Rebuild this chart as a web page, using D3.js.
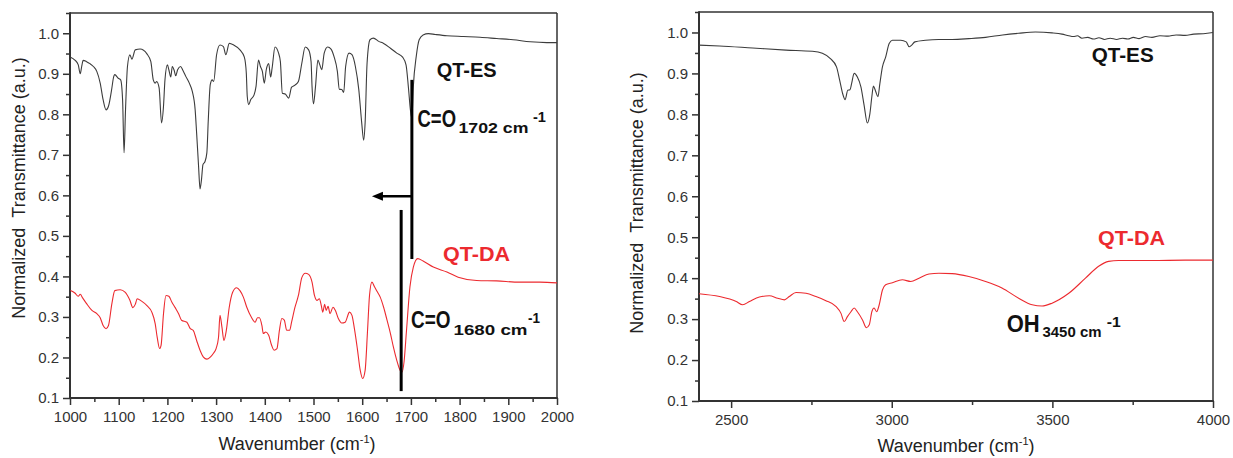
<!DOCTYPE html>
<html><head><meta charset="utf-8">
<script src="https://cdn.jsdelivr.net/npm/d3@7"></script>
<style>
body{margin:0;background:#fff}
svg{display:block}
text{font-family:Arial,"Liberation Sans",sans-serif}
</style>
</head><body>
<svg id="chart" width="1233" height="458"></svg>
<script>
// ---------- DATA ----------
const leftES = [[1001,0.941],[1010,0.934],[1017,0.922],[1021,0.900],[1024,0.918],[1027,0.933],[1034,0.930],[1041,0.925],[1048,0.918],[1055,0.906],[1062,0.877],[1068,0.836],[1074,0.811],[1079,0.820],[1086,0.865],[1089,0.889],[1092,0.898],[1099,0.889],[1104,0.885],[1108,0.836],[1111,0.705],[1114,0.811],[1118,0.918],[1123,0.947],[1127,0.936],[1134,0.959],[1144,0.961],[1158,0.949],[1166,0.930],[1171,0.885],[1175,0.877],[1178,0.881],[1183,0.865],[1188,0.779],[1192,0.820],[1195,0.885],[1200,0.922],[1203,0.910],[1207,0.892],[1210,0.918],[1214,0.908],[1217,0.895],[1221,0.910],[1227,0.918],[1232,0.908],[1238,0.893],[1245,0.877],[1251,0.857],[1257,0.811],[1260,0.754],[1264,0.672],[1267,0.616],[1270,0.639],[1273,0.676],[1277,0.683],[1281,0.705],[1284,0.787],[1288,0.873],[1292,0.885],[1295,0.881],[1301,0.947],[1308,0.971],[1315,0.967],[1320,0.947],[1327,0.975],[1336,0.971],[1349,0.959],[1358,0.941],[1362,0.902],[1364,0.844],[1367,0.824],[1371,0.836],[1378,0.848],[1382,0.869],[1387,0.934],[1391,0.918],[1395,0.906],[1399,0.877],[1403,0.910],[1408,0.925],[1412,0.892],[1415,0.914],[1421,0.966],[1428,0.952],[1432,0.930],[1436,0.852],[1442,0.850],[1449,0.840],[1455,0.867],[1462,0.872],[1469,0.881],[1476,0.926],[1483,0.966],[1490,0.959],[1495,0.930],[1497,0.869],[1500,0.826],[1504,0.867],[1509,0.934],[1513,0.922],[1517,0.910],[1522,0.951],[1529,0.966],[1536,0.961],[1542,0.943],[1549,0.906],[1553,0.862],[1558,0.861],[1562,0.854],[1566,0.918],[1573,0.951],[1579,0.947],[1586,0.918],[1593,0.861],[1599,0.779],[1603,0.736],[1606,0.779],[1610,0.926],[1616,0.984],[1623,0.988],[1634,0.980],[1644,0.975],[1658,0.963],[1671,0.951],[1683,0.941],[1690,0.922],[1695,0.865],[1699,0.811],[1702,0.790],[1705,0.869],[1711,0.943],[1717,0.984],[1725,0.996],[1736,0.999],[1750,0.997],[1774,0.994],[1808,0.992],[1842,0.990],[1876,0.987],[1910,0.984],[1945,0.979],[1979,0.977],[2000,0.977]];

const leftDA = [[1001,0.365],[1010,0.359],[1017,0.351],[1021,0.356],[1026,0.347],[1034,0.333],[1045,0.316],[1055,0.308],[1062,0.298],[1068,0.279],[1074,0.271],[1079,0.279],[1086,0.333],[1092,0.365],[1103,0.367],[1113,0.361],[1123,0.341],[1129,0.323],[1134,0.331],[1138,0.345],[1147,0.339],[1158,0.328],[1168,0.312],[1175,0.283],[1179,0.250],[1184,0.222],[1187,0.230],[1192,0.308],[1197,0.353],[1203,0.351],[1209,0.337],[1216,0.323],[1223,0.308],[1229,0.292],[1240,0.287],[1247,0.271],[1253,0.267],[1260,0.242],[1267,0.218],[1274,0.201],[1281,0.196],[1288,0.201],[1295,0.211],[1300,0.222],[1305,0.250],[1308,0.304],[1312,0.275],[1316,0.242],[1321,0.267],[1327,0.324],[1334,0.361],[1342,0.372],[1349,0.365],[1356,0.349],[1363,0.324],[1373,0.298],[1380,0.287],[1385,0.298],[1389,0.298],[1394,0.279],[1397,0.259],[1402,0.263],[1408,0.255],[1414,0.230],[1419,0.218],[1425,0.222],[1430,0.267],[1435,0.296],[1440,0.292],[1445,0.267],[1451,0.267],[1455,0.287],[1462,0.324],[1469,0.353],[1476,0.397],[1483,0.408],[1490,0.405],[1497,0.386],[1502,0.353],[1507,0.341],[1512,0.345],[1516,0.328],[1519,0.312],[1523,0.331],[1526,0.316],[1530,0.326],[1534,0.308],[1540,0.324],[1545,0.316],[1551,0.296],[1558,0.285],[1565,0.287],[1574,0.312],[1579,0.304],[1584,0.271],[1590,0.222],[1596,0.168],[1601,0.148],[1606,0.168],[1611,0.267],[1615,0.353],[1620,0.386],[1625,0.375],[1630,0.364],[1637,0.349],[1644,0.324],[1651,0.292],[1658,0.259],[1664,0.226],[1671,0.193],[1678,0.168],[1682,0.164],[1686,0.190],[1691,0.267],[1698,0.374],[1705,0.423],[1714,0.444],[1725,0.438],[1746,0.423],[1774,0.411],[1797,0.398],[1835,0.390],[1876,0.389],[1923,0.386],[1965,0.386],[2000,0.384]];

const rightES = [[2400,0.969],[2464,0.967],[2567,0.962],[2671,0.957],[2753,0.954],[2784,0.949],[2809,0.936],[2828,0.916],[2838,0.883],[2847,0.851],[2855,0.836],[2863,0.859],[2870,0.860],[2875,0.875],[2883,0.900],[2893,0.891],[2904,0.867],[2914,0.822],[2924,0.779],[2932,0.802],[2938,0.843],[2943,0.869],[2950,0.856],[2957,0.843],[2963,0.875],[2971,0.916],[2981,0.940],[2992,0.973],[3002,0.981],[3028,0.981],[3045,0.977],[3054,0.965],[3062,0.969],[3072,0.977],[3105,0.981],[3146,0.983],[3188,0.983],[3240,0.985],[3292,0.988],[3345,0.994],[3395,0.998],[3447,1.001],[3499,0.999],[3530,0.996],[3551,0.992],[3565,0.990],[3578,0.992],[3592,0.986],[3610,0.988],[3628,0.984],[3645,0.987],[3662,0.983],[3680,0.986],[3700,0.983],[3718,0.986],[3735,0.984],[3752,0.988],[3770,0.985],[3790,0.990],[3810,0.988],[3835,0.992],[3860,0.991],[3885,0.994],[3913,0.993],[3940,0.996],[3970,0.997],[4000,1.000]];

const rightDA = [[2400,0.362],[2464,0.355],[2516,0.343],[2536,0.335],[2557,0.343],[2588,0.354],[2619,0.357],[2645,0.351],[2666,0.347],[2681,0.355],[2702,0.365],[2733,0.363],[2764,0.355],[2795,0.345],[2826,0.331],[2842,0.314],[2852,0.294],[2862,0.306],[2873,0.318],[2883,0.327],[2893,0.318],[2909,0.298],[2921,0.279],[2930,0.286],[2938,0.318],[2945,0.327],[2953,0.318],[2961,0.335],[2971,0.371],[2981,0.384],[3002,0.389],[3033,0.396],[3059,0.392],[3085,0.400],[3116,0.410],[3147,0.412],[3188,0.411],[3240,0.404],[3292,0.392],[3343,0.376],[3395,0.351],[3437,0.335],[3468,0.332],[3499,0.339],[3551,0.363],[3603,0.400],[3644,0.429],[3675,0.441],[3706,0.443],[3809,0.443],[3913,0.444],[4000,0.444]];

const yTickValues = [0.1,0.2,0.3,0.4,0.5,0.6,0.7,0.8,0.9,1.0];
const leftXTicks = [1000,1100,1200,1300,1400,1500,1600,1700,1800,1900,2000];
const rightXTicks = [2500,3000,3500,4000];
const peaksLeft = [1702, 1680];

const BLACK_LINE = "#3c3c3c", RED = "#ec2a2f", AXIS = "#333";

const svg = d3.select("#chart");

function panel(opt){
  const x = d3.scaleLinear().domain(opt.xDomain).range(opt.xRange);
  const y = d3.scaleLinear().domain([0.1,1.05]).range(opt.yRange);
  const g = svg.append("g");
  const [x0,x1] = opt.xRange, [yb,yt] = opt.yRange;
  const clipId = "clip"+opt.id;
  svg.append("clipPath").attr("id",clipId).append("rect")
    .attr("x",x0).attr("y",yt).attr("width",x1-x0).attr("height",yb-yt);

  const yMinor = d3.range(0.15,1.06,0.1).map(v=>+v.toFixed(2));
  g.append("g").attr("transform",`translate(${x0},0)`)
    .call(d3.axisLeft(y).tickValues(yMinor).tickSize(4).tickFormat(""))
    .call(s=>s.select(".domain").remove());
  const ya = g.append("g").attr("transform",`translate(${x0},0)`)
    .call(d3.axisLeft(y).tickValues(yTickValues).tickSize(7).tickPadding(4).tickFormat(d3.format(".1f")))
    .call(s=>s.select(".domain").remove());
  ya.selectAll("text").attr("font-size",15).attr("fill",AXIS).attr("font-family","Arial, 'Liberation Sans', sans-serif");

  g.append("g").attr("transform",`translate(0,${yb})`)
    .call(d3.axisBottom(x).tickValues(opt.xMinor).tickSize(4).tickFormat(""))
    .call(s=>s.select(".domain").remove());
  const xa = g.append("g").attr("transform",`translate(0,${yb})`)
    .call(d3.axisBottom(x).tickValues(opt.xTicks).tickSize(7).tickPadding(6).tickFormat(d3.format("d")))
    .call(s=>s.select(".domain").remove());
  xa.selectAll("text").attr("font-size",15).attr("fill",AXIS).attr("font-family","Arial, 'Liberation Sans', sans-serif");
  g.selectAll(".tick line").attr("stroke",AXIS).attr("stroke-width",1.5);

  g.append("line").attr("x1",x0).attr("x2",x1).attr("y1",yt).attr("y2",yt).attr("stroke",AXIS).attr("stroke-width",1.5);
  g.append("line").attr("x1",x1).attr("x2",x1).attr("y1",yt).attr("y2",yb).attr("stroke",AXIS).attr("stroke-width",1.5);
  g.append("line").attr("x1",x0).attr("x2",x0).attr("y1",yt-0.75).attr("y2",yb+1).attr("stroke",AXIS).attr("stroke-width",2);
  g.append("line").attr("x1",x0-1).attr("x2",x1+0.75).attr("y1",yb).attr("y2",yb).attr("stroke",AXIS).attr("stroke-width",2);

  const line = d3.line().x(d=>x(d[0])).y(d=>y(d[1])).curve(d3.curveMonotoneX);
  const cg = g.append("g").attr("clip-path",`url(#${clipId})`);
  cg.append("path").datum(opt.es).attr("d",line).attr("fill","none").attr("stroke",BLACK_LINE).attr("stroke-width",1.1);
  cg.append("path").datum(opt.da).attr("d",line).attr("fill","none").attr("stroke",RED).attr("stroke-width",1.1);

  const xt = g.append("text").attr("x",opt.xTitleX).attr("y",opt.xTitleY).attr("text-anchor","middle")
    .attr("font-size",18).attr("fill","#222");
  xt.append("tspan").text("Wavenumber (cm");
  xt.append("tspan").attr("dy",-7).attr("font-size",11).text("-1");
  xt.append("tspan").attr("dy",7).text(")");
  g.append("text").attr("transform",`translate(${opt.yTitleX},${opt.yTitleY}) rotate(-90)`)
    .attr("text-anchor","middle").attr("font-size",18).attr("fill","#222")
    .text("Normalized\u00a0\u00a0Transmittance (a.u.)");
  return {g,x,y};
}

function label(g, x, y, txt, size, len, fill, family){
  return g.append("text").attr("x",x).attr("y",y).attr("font-size",size).attr("font-weight","bold")
    .attr("fill",fill||"#111").attr("font-family",family||"Arial, 'Liberation Sans', sans-serif")
    .attr("textLength",len).attr("lengthAdjust","spacingAndGlyphs").text(txt);
}
const QTFONT = "Lato, 'Open Sans', Arial, sans-serif";

// ---------- LEFT PANEL ----------
const L = panel({id:"L", xDomain:[1000,2000], xRange:[70,557], yRange:[398,13],
  xTicks:leftXTicks, xMinor:d3.range(1050,2000,100), es:leftES, da:leftDA,
  xTitleX:297, xTitleY:450, yTitleX:25, yTitleY:188});

L.g.append("line").attr("x1",L.x(peaksLeft[0])).attr("x2",L.x(peaksLeft[0]))
  .attr("y1",L.y(0.885)).attr("y2",L.y(0.443)).attr("stroke","#000").attr("stroke-width",3);
L.g.append("line").attr("x1",L.x(peaksLeft[1])).attr("x2",L.x(peaksLeft[1]))
  .attr("y1",L.y(0.564)).attr("y2",L.y(0.117)).attr("stroke","#000").attr("stroke-width",3);
const ay = L.y(0.598), tipX = L.x(1620);
L.g.append("line").attr("x1",L.x(peaksLeft[0])).attr("x2",tipX+8).attr("y1",ay).attr("y2",ay)
  .attr("stroke","#000").attr("stroke-width",2.5);
L.g.append("path").attr("d",`M${tipX},${ay} L${tipX+11},${ay-4.5} L${tipX+11},${ay+4.5} Z`).attr("fill","#000");

label(L.g, 436.7, 76.7, "QT-ES", 20, 60, "#111", QTFONT);
label(L.g, 443, 261, "QT-DA", 20, 67, RED, QTFONT);
label(L.g, 417.5, 127, "C=O", 23, 38.5);
label(L.g, 458.5, 133, "1702 cm", 15, 70);
label(L.g, 533, 121.7, "-1", 14, 13);
label(L.g, 411, 328.3, "C=O", 23, 39.5);
label(L.g, 453.5, 335, "1680 cm", 15, 74);
label(L.g, 528, 323, "-1", 14, 12);

// ---------- RIGHT PANEL ----------
const R = panel({id:"R", xDomain:[2400,4000], xRange:[699,1213], yRange:[401,12],
  xTicks:rightXTicks, xMinor:[2750,3250,3750], es:rightES, da:rightDA,
  xTitleX:956, xTitleY:452, yTitleX:643, yTitleY:203});

label(R.g, 1091.7, 61.7, "QT-ES", 20, 62, "#111", QTFONT);
label(R.g, 1098, 245, "QT-DA", 20, 67, RED, QTFONT);
label(R.g, 1006.7, 331.7, "OH", 23, 33);
label(R.g, 1042.5, 336.7, "3450 cm", 14, 59);
label(R.g, 1106.7, 327, "-1", 14, 14);
</script>
</body></html>
